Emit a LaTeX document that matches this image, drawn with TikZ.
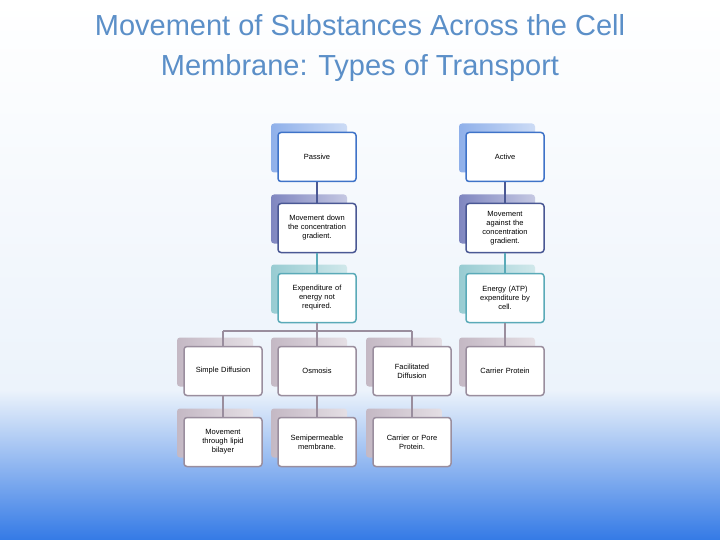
\documentclass[tikz,border=0pt]{standalone}
\usepackage{fontspec}
\setmainfont{Liberation Sans}
\begin{document}
\begin{tikzpicture}[x=1pt,y=-1pt,
  bx/.style={draw=#1,line width=1.5pt,fill=white,rounded corners=3pt,minimum width=78pt,minimum height=49pt,align=center,font=\fontsize{7.5}{9}\selectfont,text width=70pt,inner sep=1pt},
  sh/.style={left color=#1,right color=#1!45,rounded corners=3pt,minimum width=76pt,minimum height=49pt,inner sep=0pt}]
\definecolor{bA}{HTML}{3F73C8}\definecolor{sA}{HTML}{8FB0EA}
\definecolor{bB}{HTML}{4A5894}\definecolor{sB}{HTML}{7F86C0}
\definecolor{bC}{HTML}{5AAAB8}\definecolor{sC}{HTML}{98CCD2}
\definecolor{bD}{HTML}{9A8E9E}\definecolor{sD}{HTML}{C4B8C4}
\definecolor{ttl}{HTML}{5B8FC8}
\useasboundingbox (0,0) rectangle (720,540);
\shade[top color=white,bottom color={rgb,255:red,236;green,243;blue,251}] (0,0) rectangle (720,390);
\shade[top color={rgb,255:red,236;green,243;blue,251},bottom color={rgb,255:red,52;green,122;blue,230}] (0,390) rectangle (720,540);
\node[text=ttl,font=\fontsize{29}{40}\selectfont,align=center] (title) at (360,48) {Movement of Substances Across the Cell\\Membrane: Types of Transport};
\foreach \n/\x/\y/\c/\t in {
 p/317/157/A/{Passive}, a/505/157/A/{Active},
 pm/317/228/B/{Movement down\\the concentration\\gradient.}, am/505/228/B/{Movement\\against the\\concentration\\gradient.},
 pe/317/298/C/{Expenditure of\\energy not\\required.}, ae/505/298/C/{Energy (ATP)\\expenditure by\\cell.},
 sd/223/371/D/{Simple Diffusion}, os/317/371/D/{Osmosis}, fd/412/371/D/{Facilitated\\Diffusion}, cp/505/371/D/{Carrier Protein},
 sdb/223/442/D/{Movement\\through lipid\\bilayer}, osb/317/442/D/{Semipermeable\\membrane.}, fdb/412/442/D/{Carrier or Pore\\Protein.}}
 {\node[sh=s\c] (s\n) at (\x-8,\y-9) {};
  \node[bx=b\c] (\n) at (\x,\y) {\t};}
\coordinate (br) at (317,331);
\draw[bB,line width=1.5pt] (p)--(pm) (a)--(am);
\draw[bC,line width=1.5pt] (pm)--(pe) (am)--(ae);
\draw[bD,line width=1.5pt] (pe)--(br) (sd|-br)--(fd|-br) (sd|-br)--(sd) (os|-br)--(os) (fd|-br)--(fd) (ae)--(cp) (sd)--(sdb) (os)--(osb) (fd)--(fdb);
\end{tikzpicture}
\end{document}
